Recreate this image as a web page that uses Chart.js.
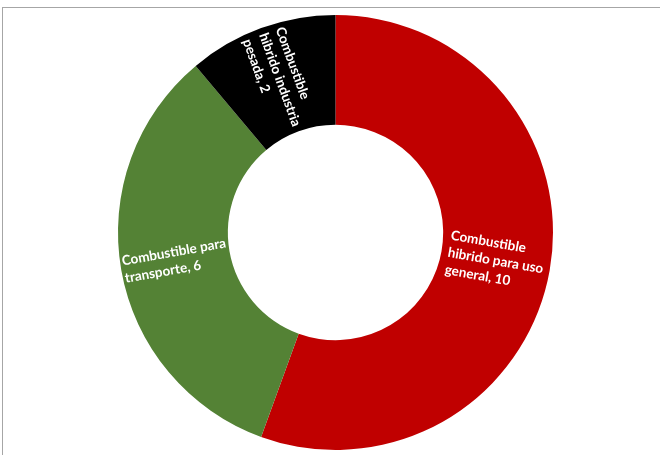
<!DOCTYPE html>
<html>
<head>
<meta charset="utf-8">
<script src="https://cdn.jsdelivr.net/npm/chart.js@4/dist/chart.umd.min.js"></script>
<style>
  html, body { margin: 0; padding: 0; background: #fff; }
  #wrap { position: relative; width: 660px; height: 455px; }
  #frame {
    position: absolute; left: 2px; top: 7px; right: -10px; bottom: -10px;
    border-top: 1px solid #a6a6a6; border-left: 1px solid #a6a6a6;
  }
  canvas { position: absolute; left: 0; top: 0; }
</style>
</head>
<body>
<div id="wrap">
  <div id="frame"></div>
  <canvas id="chart" width="660" height="455"></canvas>
</div>
<script>
const categories = [
  "Combustible hibrido para uso general",
  "Combustible para transporte",
  "Combustible hibrido industria pesada"
];
const values = [10, 6, 2];
const colors = ["#C00000", "#548235", "#000000"];
// line breaks of the data labels as shown in the picture
const labelLines = [
  ["Combustible", "hibrido para uso", "general, 10"],
  ["Combustible para", "transporte, 6"],
  ["Combustible", "hibrido industria", "pesada, 2"]
];

// Draw rotated labels in the middle of each ring segment (left aligned block)
const sliceLabels = {
  id: "sliceLabels",
  afterDatasetsDraw(chart) {
    const ctx = chart.ctx;
    const meta = chart.getDatasetMeta(0);
    ctx.save();
    ctx.fillStyle = "#ffffff";
    ctx.font = "bold 13.5px Lato, 'Open Sans', sans-serif";
    ctx.textAlign = "left";
    ctx.textBaseline = "middle";
    meta.data.forEach((arc, i) => {
      const pos = arc.tooltipPosition();
      const props = arc.getProps(["startAngle", "endAngle"], true);
      const a = (props.startAngle + props.endAngle) / 2;
      const rot = a > Math.PI / 2 ? a - Math.PI : a;
      const lines = labelLines[i];
      const lh = 17.5;
      const maxW = Math.max(...lines.map((l) => ctx.measureText(l).width));
      ctx.save();
      ctx.translate(pos.x, pos.y);
      ctx.rotate(rot);
      lines.forEach((line, j) => {
        ctx.fillText(line, -maxW / 2, (j - (lines.length - 1) / 2) * lh);
      });
      ctx.restore();
    });
    ctx.restore();
  }
};

new Chart(document.getElementById("chart").getContext("2d"), {
  type: "doughnut",
  data: {
    labels: categories,
    datasets: [
      {
        data: values,
        backgroundColor: colors,
        borderWidth: 0,
      },
    ],
  },
  options: {
    responsive: false,
    animation: false,
    cutout: "49.5%",
    layout: {
      padding: { top: 15, bottom: 5, left: 118, right: 107 },
    },
    plugins: {
      legend: { display: false },
      tooltip: { enabled: false },
    },
  },
  plugins: [sliceLabels],
});
</script>
</body>
</html>
